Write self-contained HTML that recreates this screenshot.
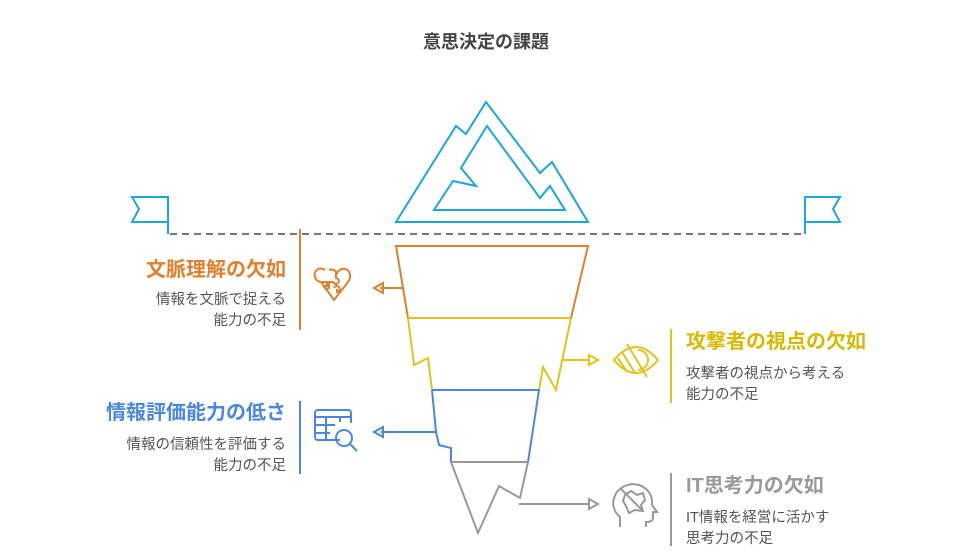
<!DOCTYPE html>
<html><head><meta charset="utf-8"><style>
body{margin:0;background:#fff;width:972px;height:556px;overflow:hidden;position:relative;font-family:"Liberation Sans","Noto Sans CJK JP",sans-serif}
.t{position:absolute;font-weight:bold;font-size:20px;white-space:nowrap;line-height:24px}
.d{position:absolute;font-size:14.5px;color:#555;line-height:21px;white-space:nowrap}
.r{text-align:right}
</style></head><body>
<div class="t" style="left:0;width:972px;text-align:center;top:30px;font-size:18px;color:#444">意思決定の課題</div>
<svg width="972" height="556" style="position:absolute;left:0;top:0" fill="none" stroke-width="2" stroke-linejoin="miter">
<g stroke="#1aa8d8">
<polygon points="396,222 456,126 466,134 486,102 540,173 552,162 588,222"/>
<polygon points="434,210 453,181 476,186 461,168 487,126 540,198 550,186 565,210"/>
<path d="M168,234 V197 H132 L139,209 L132,222 H168"/>
<path d="M805,234 V197 H840 L833,209 L840,222 H805"/>
</g>
<line x1="170" y1="234" x2="805" y2="234" stroke="#777" stroke-dasharray="7,5"/>
<g stroke="#e07f2e"><path d="M408,318 L396,246 H588 L571,318"/><path d="M403,288 H380"/><path d="M383,283 L374,288 L383,293 Z"/>
<line x1="300" y1="229" x2="300" y2="330"/>
<path d="M325,270 c-6,-4 -12,1 -10,7 c1,4 5,5 6,5 l13,18 l14,-18 c4,-5 2,-12 -3,-13 c-4,-1 -7,2 -8,4 c-2,-3 -5,-4 -8,-3 M321,282 h6 v4 h-3 a3,3 0 0 0 5,2 v-6 h4 a3,3 0 1 0 3,-4 v-6 M334,288 a3,3 0 1 1 3,4 v-3"/></g>
<g stroke="#e3c21a"><path d="M408,318 H571"/><path d="M408,318 L414,365 L428,358 L432,390"/><path d="M571,318 L556,390 L543,367 L539,390"/>
<path d="M562,360 H590"/><path d="M589,355 L598,360 L589,365 Z"/>
<line x1="671" y1="329" x2="671" y2="403"/>
<path d="M614,360 q22,-26 44,0 q-22,26 -44,0 Z M627,344 l20,33 M622,352 l13,21 M618,358 l9,14 M638,350 a10,10 0 0 1 0,20"/></g>
<g stroke="#4a88e0"><path d="M432,390 H539 L528,462"/><path d="M432,390 L436,432 L439,445 L451,448 L451,462"/>
<path d="M436,432 H381"/><path d="M383,427 L374,432 L383,437 Z"/>
<line x1="300" y1="401" x2="300" y2="474"/>
<path d="M340,440 h-22 a3,3 0 0 1 -3,-3 v-24 a3,3 0 0 1 3,-3 h30 a3,3 0 0 1 3,3 v10 M315,417 h36 M315,425 h20 M315,433 h15 M326,417 v23 M340,417 v5"/><circle cx="344" cy="438" r="8"/><path d="M350,444 l7,7"/></g>
<g stroke="#999"><path d="M451,462 H528"/><path d="M451,462 L478,533 L499,486 L520,498 L528,462"/>
<path d="M519,504 H590"/><path d="M589,499 L598,504 L589,509 Z"/>
<line x1="671" y1="473" x2="671" y2="546"/>
<path d="M620,527 v-10 c-6,-5 -8,-12 -6,-19 c3,-10 14,-16 25,-13 c9,3 14,11 13,20 l5,7 h-4 v6 c0,3 -3,4 -7,4 v5"/><path d="M625,495 l6,-4 l6,4 l6,-2 l2,7 l-4,5 l2,6 l-8,-1 l-6,3 l-3,-7 l-3,-5 Z M621,489 l22,22"/></g>
</svg>
<div class="t r" style="right:686px;top:258px;color:#e07f2e">文脈理解の欠如</div>
<div class="d r" style="right:686px;top:290px">情報を文脈で捉える<br>能力の不足</div>
<div class="t" style="left:686px;top:330px;color:#d9b800">攻撃者の視点の欠如</div>
<div class="d" style="left:686px;top:364px">攻撃者の視点から考える<br>能力の不足</div>
<div class="t r" style="right:686px;top:401px;color:#4a88e0">情報評価能力の低さ</div>
<div class="d r" style="right:686px;top:435px">情報の信頼性を評価する<br>能力の不足</div>
<div class="t" style="left:686px;top:474px;color:#999">IT思考力の欠如</div>
<div class="d" style="left:686px;top:508px">IT情報を経営に活かす<br>思考力の不足</div>
</body></html>
